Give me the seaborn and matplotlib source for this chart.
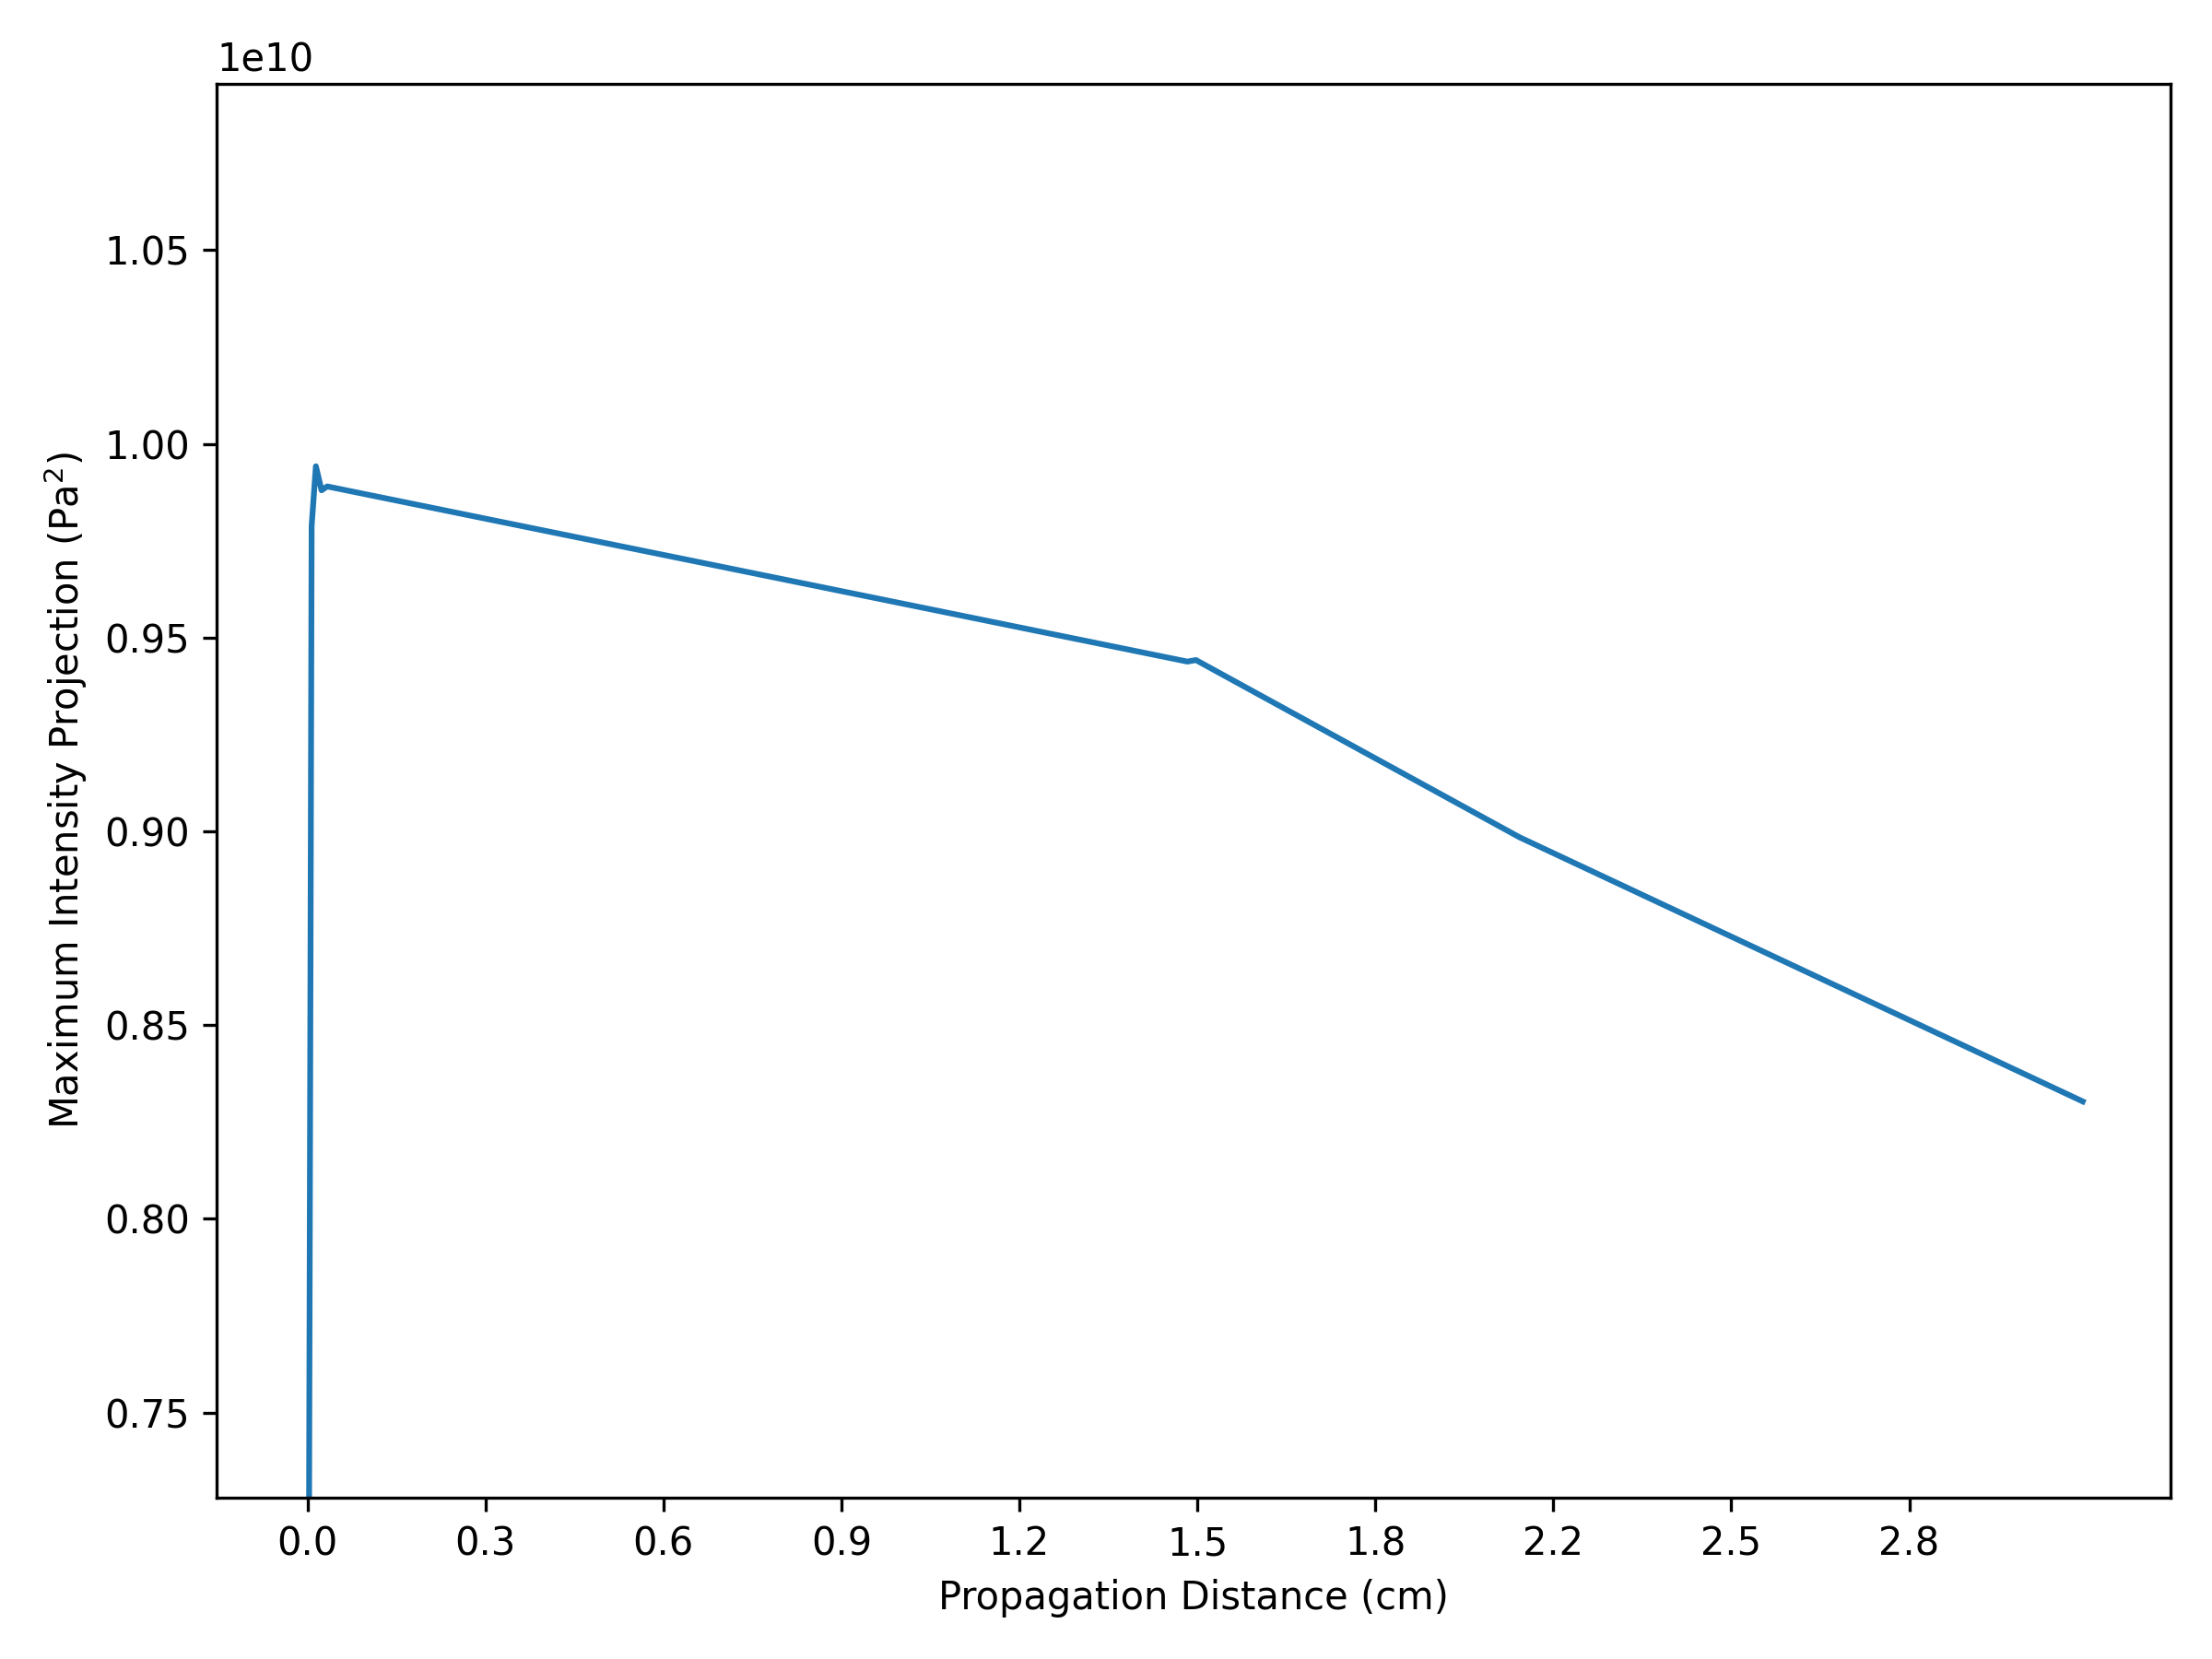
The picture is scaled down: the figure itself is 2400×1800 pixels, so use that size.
import numpy as np
import pandas as pd
import matplotlib
matplotlib.use("Agg")
import matplotlib.pyplot as plt
import seaborn as sns

# values
distance_cm = [0.0025, 0.0075, 0.015, 0.025, 0.035, 1.554, 1.569, 2.140, 3.135]
mip_pa2 = [0.70e10, 0.9788e10, 0.9942e10, 0.9880e10, 0.9890e10,
           0.9438e10, 0.9442e10, 0.8985e10, 0.8303e10]

tick_step = 0.3143
tick_labels = ["0.0", "0.3", "0.6", "0.9", "1.2", "1.5", "1.8", "2.2", "2.5", "2.8"]
y_limits = (0.728e10, 1.093e10)

df = pd.DataFrame({"distance": distance_cm, "mip": mip_pa2})

fig, ax = plt.subplots(figsize=(8, 6), dpi=300)
sns.lineplot(data=df, x="distance", y="mip", ax=ax, color="#1f77b4", linewidth=1.5)

ax.set_xticks(np.arange(len(tick_labels)) * tick_step)
ax.set_xticklabels(tick_labels)
ax.set_xlim(-0.16, 3.29)
ax.set_ylim(*y_limits)
ax.set_xlabel("Propagation Distance (cm)")
ax.set_ylabel("Maximum Intensity Projection (Pa$^2$)")

plt.tight_layout()
plt.savefig("out.png", dpi=300)
plt.close()
